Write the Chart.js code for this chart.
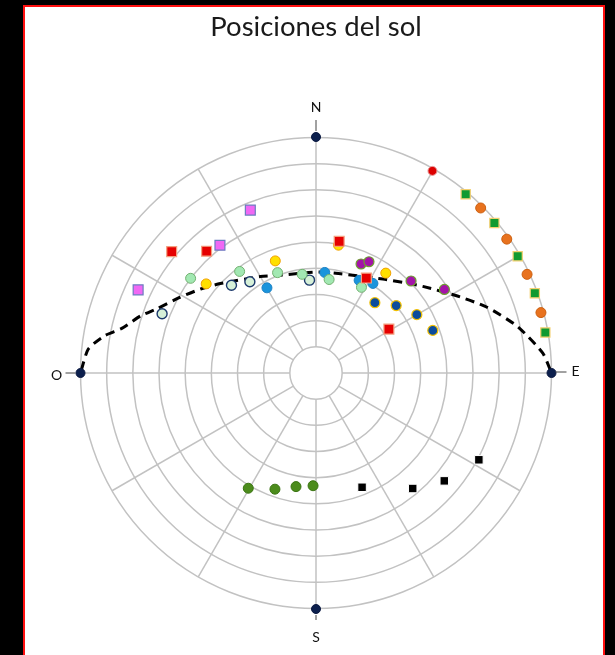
<!DOCTYPE html>
<html>
<head>
<meta charset="utf-8">
<script src="https://cdn.jsdelivr.net/npm/chart.js@4.4.1/dist/chart.umd.min.js"></script>
<style>
  html, body { margin: 0; padding: 0; background: #000; overflow: hidden; }
  #panel {
    position: absolute; left: 23px; top: 5px;
    width: 578px; height: 660px;
    background: #fff; border: 2px solid #ff1010;
  }
  #chart { position: absolute; left: 0; top: 0; }
</style>
</head>
<body>
<div id="panel"></div>
<canvas id="chart" width="615" height="655"></canvas>
<script>
// azimuth (deg from N, clockwise) and altitude (deg above horizon)
const cardinalNames = ["N", "E", "S", "O"];
const cardinalAz = [0, 90, 180, 270];
const cardinalAlt = [0, 0, 0, 0];

const pathAz = [270, 276, 280, 283, 288, 292, 299, 306, 313, 330, 341, 0, 14, 35.5, 44, 51, 61.5, 69, 77, 85, 90];
const pathAlt = [0, 2.5, 8, 14, 19.5, 24.5, 30.5, 35.5, 40, 47.5, 50.5, 51.5, 51, 46, 42, 37.5, 28.5, 20, 11, 3, 0];

const magentaAz = [338, 323, 295];
const magentaAlt = [23, 29, 15];

const redSqAz = [310, 318, 10, 28, 59];
const redSqAlt = [18, 27.5, 39, 49, 57.5];

const yellowAz = [309, 340, 10, 35];
const yellowAlt = [36, 44.5, 40.5, 43.5];

const lightGreenAz = [307, 323, 339, 352, 8, 28];
const lightGreenAlt = [30, 41.5, 49, 52, 54, 53];

const hollowAz = [291, 316, 324, 356];
const hollowAlt = [27, 43.5, 47, 54.5];

const blueAz = [330, 5, 25, 32.5];
const blueAlt = [52.5, 51.5, 51, 49.5];

const purpleAz = [22.5, 25.5, 46, 57];
const purpleAlt = [45, 43, 39.5, 31.5];

const navyAz = [40, 50, 60, 70];
const navyAlt = [55, 50, 45.5, 42.5];

const redDotAz = [30];
const redDotAlt = [1];

const greenSqAz = [40, 50, 60, 70, 80];
const greenSqAlt = [1, 1, 1, 1, 1];

const orangeAz = [45, 55, 65, 75];
const orangeAlt = [1, 1, 1, 1];

const oliveAz = [210.5, 199.5, 190, 181.5];
const oliveAlt = [39, 43, 46, 47];

const blackSqAz = [158, 140, 130, 118];
const blackSqAlt = [43, 32.5, 26, 19.5];

const ringSteps = [10, 20, 30, 40, 50, 60, 70, 80, 90]; // zenith distance
const spokeAngles = [0, 30, 60, 90, 120, 150, 180, 210, 240, 270, 300, 330];

function toXY(az, alt) {
  return az.map((a, i) => {
    const rho = 90 - alt[i];
    const rad = a * Math.PI / 180;
    return { x: rho * Math.sin(rad), y: rho * Math.cos(rad) };
  });
}

function markers(az, alt, style, r, fill, border, bw) {
  return {
    data: toXY(az, alt),
    showLine: false,
    pointStyle: style,
    pointRadius: r,
    pointBackgroundColor: fill,
    pointBorderColor: border,
    pointBorderWidth: bw,
    clip: false
  };
}

const polarGrid = {
  id: "polarGrid",
  beforeDatasetsDraw(chart) {
    const xs = chart.scales.x, ys = chart.scales.y, ctx = chart.ctx;
    const cx = xs.getPixelForValue(0), cy = ys.getPixelForValue(0);
    const unit = xs.getPixelForValue(1) - cx;
    ctx.save();
    ctx.strokeStyle = "#c2c2c2";
    ctx.lineWidth = 1.5;
    ringSteps.forEach(z => {
      ctx.beginPath();
      ctx.arc(cx, cy, z * unit, 0, Math.PI * 2);
      ctx.stroke();
    });
    spokeAngles.forEach(a => {
      const rad = a * Math.PI / 180;
      ctx.beginPath();
      ctx.moveTo(cx + 10 * unit * Math.sin(rad), cy - 10 * unit * Math.cos(rad));
      ctx.lineTo(cx + 90 * unit * Math.sin(rad), cy - 90 * unit * Math.cos(rad));
      ctx.stroke();
    });
    ctx.restore();
  },
  afterDatasetsDraw(chart) {
    // cardinal labels with short leader lines
    const pts = chart.getDatasetMeta(0).data, ctx = chart.ctx;
    const offs = [[0, -30, 0, -6, 0, -17], [24, -2, 4, -1, 15, -1], [0, 28, 0, 6, 0, 11], [-24, 2, -5, 0, -15, 0]];
    ctx.save();
    ctx.strokeStyle = "#444";
    ctx.lineWidth = 1;
    ctx.fillStyle = "#111";
    ctx.font = "14px Lato";
    ctx.textAlign = "center";
    ctx.textBaseline = "middle";
    pts.forEach((p, i) => {
      const o = offs[i];
      ctx.beginPath();
      ctx.moveTo(p.x + o[2], p.y + o[3]);
      ctx.lineTo(p.x + o[4], p.y + o[5]);
      ctx.stroke();
      ctx.fillText(cardinalNames[i], p.x + o[0], p.y + o[1]);
    });
    ctx.restore();
  }
};

new Chart(document.getElementById("chart"), {
  type: "scatter",
  data: {
    datasets: [
      markers(cardinalAz, cardinalAlt, "circle", 4.5, "#0c1f4d", "#0a1840", 1),
      markers(magentaAz, magentaAlt, "rect", 7, "#f068f4", "#6c7cc0", 1.2),
      markers(redSqAz, redSqAlt, "rect", 7, "#e60000", "#f4a080", 1.2),
      markers(redDotAz, redDotAlt, "circle", 4.5, "#dd0000", "#e8a0a0", 1),
      markers(greenSqAz, greenSqAlt, "rect", 6.5, "#109a30", "#f4d070", 1.2),
      markers(orangeAz, orangeAlt, "circle", 5, "#e8721e", "#cc6010", 1),
      markers(yellowAz, yellowAlt, "circle", 5, "#ffe000", "#f0a000", 1),
      markers(lightGreenAz, lightGreenAlt, "circle", 5, "#a2e8b2", "#72b070", 1),
      markers(hollowAz, hollowAlt, "circle", 5, "#d6f0d8", "#1d3a6c", 1.4),
      markers(blueAz, blueAlt, "circle", 5, "#1a94dc", "#1f82c4", 1),
      markers(purpleAz, purpleAlt, "circle", 5, "#a414a8", "#6ea030", 1.2),
      markers(navyAz, navyAlt, "circle", 5, "#0c4c9c", "#f2c000", 1.2),
      markers(oliveAz, oliveAlt, "circle", 5, "#4c8c1c", "#3a7412", 1),
      markers(blackSqAz, blackSqAlt, "rect", 6, "#000000", "#ffffff", 1),
      {
        data: toXY(pathAz, pathAlt),
        showLine: true,
        borderColor: "#000",
        borderWidth: 3,
        borderDash: [9, 6],
        borderDashOffset: 12,
        pointRadius: 0,
        tension: 0.2,
        clip: false
      }
    ]
  },
  options: {
    responsive: false,
    animation: false,
    layout: { autoPadding: false, padding: { left: 80.5, right: 63.5, top: 0, bottom: 46 } },
    scales: {
      x: { type: "linear", min: -90, max: 90, display: false },
      y: { type: "linear", min: -90, max: 90, display: false }
    },
    plugins: {
      legend: { display: false },
      tooltip: { enabled: false },
      title: {
        display: true,
        text: "Posiciones del sol",
        color: "#1a1a1a",
        font: { family: "Lato", size: 27.5, weight: "normal", lineHeight: 1.2 },
        padding: { top: 11, bottom: 93 }
      }
    }
  },
  plugins: [polarGrid]
});
</script>
</body>
</html>
